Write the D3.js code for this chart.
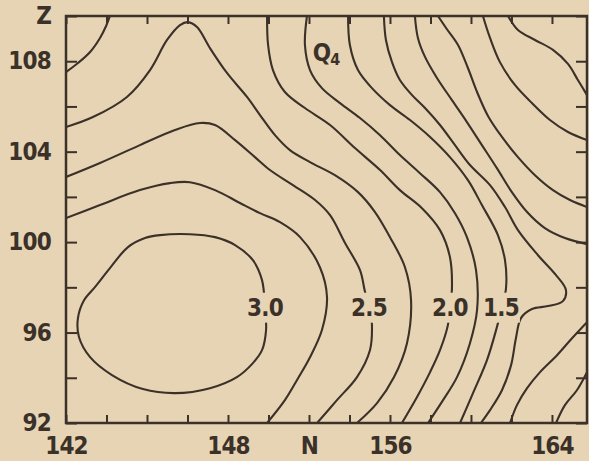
<!DOCTYPE html>
<html>
<head>
<meta charset="utf-8">
<script src="https://cdn.jsdelivr.net/npm/d3@7"></script>
<style>
  body { margin: 0; background: #e7d4b5; }
  svg text {
    font-family: "Liberation Sans Narrow", "DejaVu Sans Condensed", sans-serif;
    font-weight: bold;
    font-size: 24px;
    letter-spacing: -0.8px;
    fill: #3a3129;
  }
</style>
</head>
<body>
<div id="chart"></div>
<script>
// axis ticks and the labels printed on them
const xTicks = d3.range(140, 166, 2)
const xTickLabels = new Map([[140, "142"], [148, "148"], [152, "N"], [156, "156"], [164, "164"]])
const yTicks = d3.range(92, 111, 2)
const yTickLabels = new Map([[92, "92"], [96, "96"], [100, "100"], [104, "104"], [108, "108"], [110, "Z"]])

// contour lines, [N, Z] pairs
const contour300 = [[144.64,100.31],[146.12,100.35],[147.36,100.22],[148.35,99.87],[149.23,99.20],[149.68,98.32],
  [149.83,97.08],[149.88,96.11],[149.68,95.22],[149.23,94.65],[148.44,94.03],[147.11,93.54],[145.38,93.32],
  [143.80,93.50],[142.27,94.12],[141.19,94.91],[140.64,95.80],[140.59,96.64],[140.89,97.43],[141.43,98.01],
  [142.17,98.85],[143.06,99.78],[143.90,100.18]]
const contour275 = [[140.00,101.06],[141.68,101.64],[143.65,102.30],[145.14,102.61],[146.12,102.65],[147.36,102.30],
  [148.59,101.73],[149.58,101.28],[150.57,100.88],[151.56,100.22],[152.54,98.89],[152.89,97.57],[152.64,96.11],
  [152.05,94.91],[151.46,93.98],[150.81,93.01],[149.93,92.00]]
const contour250 = [[140.00,102.88],[141.68,103.50],[143.65,104.29],[145.38,104.96],[146.62,105.27],[147.36,105.18],
  [148.35,104.51],[149.33,103.76],[150.07,103.19],[151.21,102.52],[152.30,101.86],[153.04,101.19],[153.78,99.96],
  [154.52,98.76],[154.77,97.79],[155.01,97.08],[155.11,96.33],[155.01,95.22],[154.37,94.03],[153.38,93.01],[152.40,92.00]]
const contour225 = [[140.00,105.09],[141.33,105.53],[143.01,106.42],[144.15,107.61],[144.99,108.94],[145.63,109.60],
  [146.02,109.73],[146.47,109.51],[147.11,108.58],[147.95,107.48],[148.94,106.42],[149.58,105.62],[150.32,104.73],
  [151.06,104.07],[152.05,103.54],[153.28,102.96],[154.42,102.21],[155.26,101.33],[156.00,100.22],[156.74,98.89],
  [157.04,97.43],[156.84,95.53],[156.20,94.03],[155.36,92.88],[154.37,92.00]]
const contour200a = [[140.00,107.52],[140.59,107.92],[141.19,108.41],[141.68,109.03],[141.98,109.56],[142.17,110.00]]
const contour200b = [[149.93,110.00],[149.98,108.72],[150.22,107.61],[150.81,106.64],[151.80,105.93],[153.04,105.18],
  [154.27,104.16],[155.51,103.19],[156.49,102.30],[157.58,101.50],[158.47,100.53],[158.96,99.34],[159.06,97.96],
  [158.96,97.12],[158.86,96.33],[158.47,95.22],[157.98,94.25],[157.33,93.14],[156.59,92.00]]
const contour175 = [[151.90,110.00],[151.80,108.72],[152.05,107.61],[152.64,106.81],[153.53,106.15],[154.52,105.49],
  [155.51,104.73],[156.49,103.85],[157.48,103.05],[158.47,102.21],[159.21,101.28],[159.80,100.22],[160.25,98.76],
  [160.30,96.99],[159.95,95.53],[159.31,94.03],[158.62,93.01],[157.88,92.00]]
const contour150 = [[153.93,110.00],[154.02,108.72],[154.42,107.61],[155.11,106.81],[156.00,106.06],[156.99,105.40],
  [157.98,104.65],[158.96,103.76],[159.85,102.74],[160.54,101.64],[161.33,100.31],[161.68,99.20],[161.73,97.96],
  [161.53,97.12],[161.28,96.24],[160.79,94.78],[160.10,93.32],[159.46,92.00]]
const contour125 = [[155.70,110.00],[155.80,108.94],[156.10,107.96],[156.49,107.17],[157.09,106.50],[157.73,105.93],
  [158.47,105.18],[159.21,104.29],[159.95,103.41],[160.94,102.52],[161.68,101.55],[162.32,100.53],[163.31,99.42],
  [164.20,98.54],[164.69,97.88],[164.54,97.39],[163.80,97.17],[163.01,97.04],[162.47,96.64],[162.22,95.75],
  [161.98,94.56],[161.53,93.45],[160.94,92.57],[160.49,92.00]]
const contour100a = [[157.23,110.00],[157.38,109.03],[157.73,108.19],[158.32,107.26],[159.06,106.28],[159.80,105.31],
  [160.54,104.29],[161.28,103.27],[162.02,102.21],[162.77,101.33],[163.65,100.62],[164.64,100.18],[165.73,99.91]]
const contour100b = [[165.73,96.46],[164.99,95.75],[164.25,95.00],[163.41,94.25],[162.77,93.54],[162.27,92.79],[161.93,92.00]]
const contour075a = [[158.37,110.00],[158.77,109.47],[159.36,108.72],[159.85,107.70],[160.30,106.64],[160.84,105.58],
  [161.53,104.65],[162.32,103.76],[163.16,102.96],[164.05,102.30],[164.89,101.86],[165.73,101.55]]
const contour075b = [[165.73,94.25],[165.23,93.45],[164.64,92.79],[164.20,92.00]]
const contour050 = [[160.59,110.00],[160.94,109.03],[161.43,107.96],[162.17,106.95],[163.01,106.15],[163.90,105.40],
  [164.79,104.87],[165.73,104.51]]
const contour025 = [[161.83,110.00],[162.32,109.38],[163.16,108.94],[164.05,108.50],[164.79,107.88],[165.28,107.17],[165.73,106.50]]

const contourLabels = [["3.0", 149.83, 97.1], ["2.5", 154.96, 97.1], ["2.0", 158.96, 97.1], ["1.5", 161.48, 97.1]]
const seriesLabel = { text: "Q", sub: "4", n: 152.85, z: 108.4 }

const MARGIN = { LEFT: 66, RIGHT: 2, TOP: 16, BOTTOM: 38 }
const WIDTH = 589 - MARGIN.LEFT - MARGIN.RIGHT
const HEIGHT = 461 - MARGIN.TOP - MARGIN.BOTTOM
const INK = "#3b3129"
const PAPER = "#e7d4b5"

const svg = d3.select("#chart").append("svg")
  .attr("width", WIDTH + MARGIN.LEFT + MARGIN.RIGHT)
  .attr("height", HEIGHT + MARGIN.TOP + MARGIN.BOTTOM)

const g = svg.append("g")
  .attr("transform", `translate(${MARGIN.LEFT}, ${MARGIN.TOP})`)

const x = d3.scaleLinear().domain([140, 165.73]).range([0, WIDTH])
const y = d3.scaleLinear().domain([92, 110]).range([HEIGHT, 0])

g.append("clipPath").attr("id", "plot-clip")
  .append("rect").attr("width", WIDTH).attr("height", HEIGHT)

// contours
const lines = [contour300, contour275, contour250, contour225, contour200a, contour200b, contour175,
  contour150, contour125, contour100a, contour100b, contour075a, contour075b, contour050, contour025]

const line = d3.line().x(d => x(d[0])).y(d => y(d[1])).curve(d3.curveCatmullRom.alpha(0.5))
const loop = d3.line().x(d => x(d[0])).y(d => y(d[1])).curve(d3.curveCatmullRomClosed.alpha(0.5))

g.append("g").attr("clip-path", "url(#plot-clip)")
  .selectAll("path").data(lines).enter().append("path")
    .attr("d", d => d === contour300 ? loop(d) : line(d))
    .attr("fill", "none")
    .attr("stroke", INK)
    .attr("stroke-width", 2.1)

// contour labels sit in a gap cut out of their line
const lab = g.selectAll(".clabel").data(contourLabels).enter().append("g")
  .attr("class", "clabel")
  .attr("transform", d => `translate(${x(d[1])}, ${y(d[2])})`)
lab.append("rect")
  .attr("x", -19).attr("y", -15).attr("width", 38).attr("height", 30)
  .attr("fill", PAPER)
lab.append("text")
  .attr("text-anchor", "middle")
  .attr("dy", "0.35em")
  .text(d => d[0])

const q = g.append("text")
  .attr("x", x(seriesLabel.n)).attr("y", y(seriesLabel.z))
  .attr("text-anchor", "middle").attr("dy", "0.35em")
  .style("font-size", "24px")
q.append("tspan").text(seriesLabel.text)
q.append("tspan").attr("dy", "4").style("font-size", "16px").text(seriesLabel.sub)

// axes, ticks drawn inward
const styleAxis = a => {
  a.attr("color", INK).attr("font-size", null).attr("font-family", null)
  a.select(".domain").remove()
  a.selectAll(".tick line").attr("stroke-width", 2)
}

g.append("g")
  .attr("transform", `translate(0, ${HEIGHT})`)
  .call(d3.axisBottom(x).tickValues(xTicks).tickSize(-8).tickPadding(14)
    .tickFormat(d => xTickLabels.get(d) || ""))
  .call(styleAxis)

g.append("g")
  .call(d3.axisTop(x).tickValues(xTicks).tickSize(-8).tickFormat(""))
  .call(styleAxis)

g.append("g")
  .call(d3.axisLeft(y).tickValues(yTicks).tickSize(-11).tickPadding(15)
    .tickFormat(d => yTickLabels.get(d) || ""))
  .call(styleAxis)

g.append("g")
  .attr("transform", `translate(${WIDTH}, 0)`)
  .call(d3.axisRight(y).tickValues(yTicks).tickSize(-11).tickFormat(""))
  .call(styleAxis)

// frame
g.append("rect")
  .attr("width", WIDTH).attr("height", HEIGHT)
  .attr("fill", "none")
  .attr("stroke", INK)
  .attr("stroke-width", 2.5)
</script>
</body>
</html>
